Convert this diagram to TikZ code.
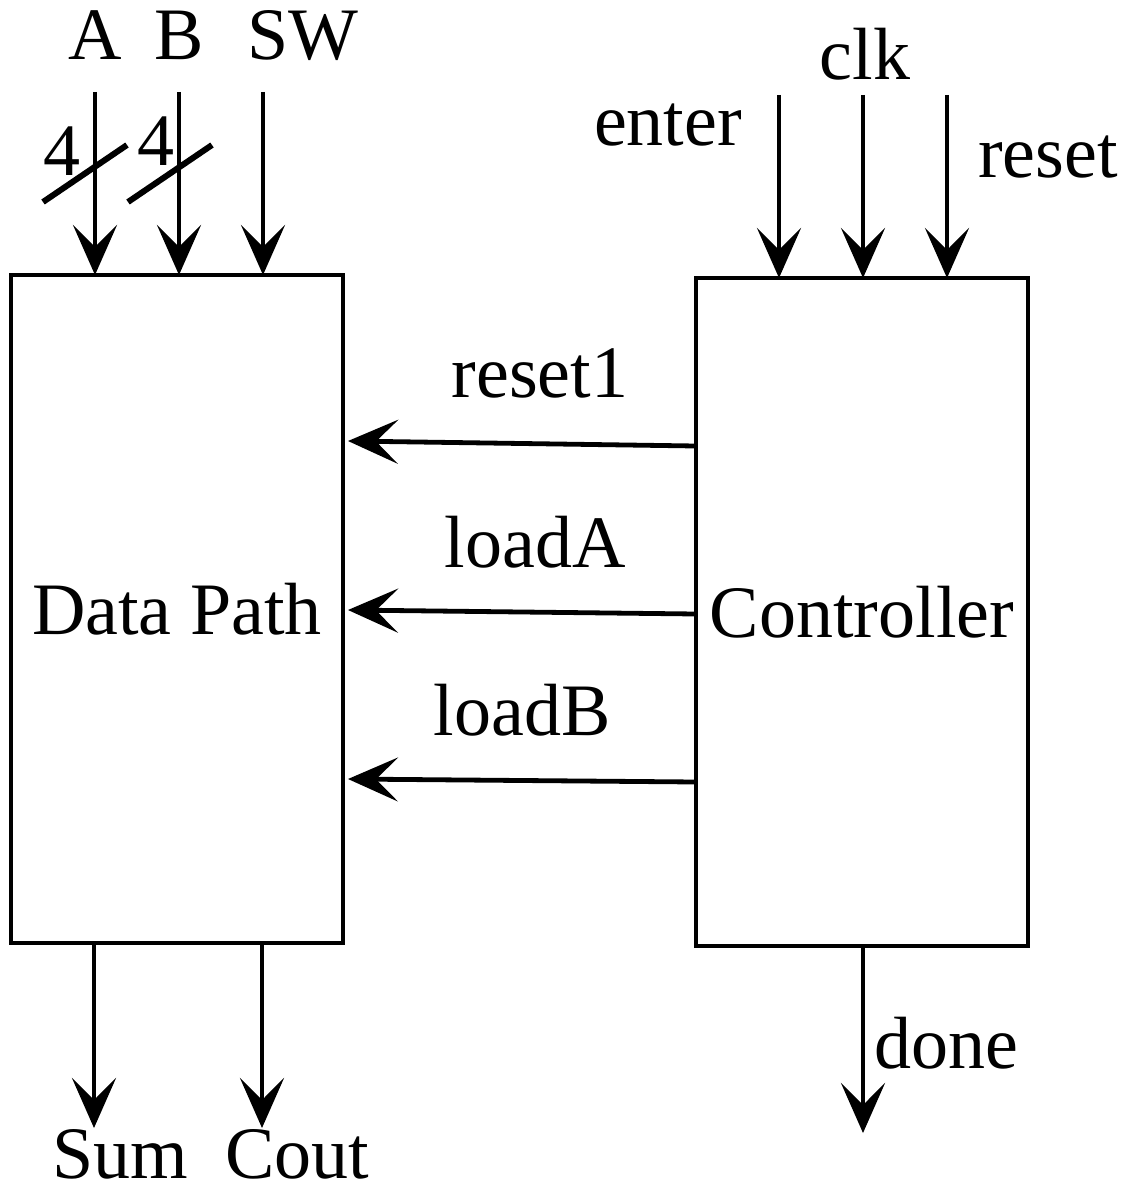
\documentclass[tikz,border=0pt]{standalone}
\usepackage{fontspec}
\setmainfont{Liberation Serif}
\usetikzlibrary{arrows.meta}
\begin{document}
\begin{tikzpicture}[x=0.5pt,y=-0.5pt,
  font=\fontsize{37}{44}\selectfont,
  blk/.style={draw,line width=2pt,minimum width=166pt,minimum height=334pt,inner sep=0pt,outer sep=0pt},
  sig/.style={line width=2.4pt,-{Stealth[length=25pt,width=22pt,inset=11pt]}},
  bus/.style={line width=3pt},
  lbl/.style={anchor=base,inner sep=0pt}]
\useasboundingbox (0,0) rectangle (1136,1193);

% blocks
\node[blk] (dp) at (177,609) {Data Path};
\node[blk] (ctl) at (862,612) {Controller};

% data path inputs
\coordinate (ina) at (95,92);
\coordinate (inb) at (179,92);
\coordinate (insw) at (263,92);
\draw[sig] (ina) -- (ina |- dp.north);
\draw[sig] (inb) -- (inb |- dp.north);
\draw[sig] (insw) -- (insw |- dp.north);
\node[lbl] (la) at (95,60) {A};
\node[lbl] (lb) at (179,60) {B};
\node[lbl] (lsw) at (303,60) {SW};

% bus width marks
\coordinate (sa1) at (43,202); \coordinate (sa2) at (127,145);
\coordinate (sb1) at (128,202); \coordinate (sb2) at (212,145);
\draw[bus] (sa1) -- (sa2);
\draw[bus] (sb1) -- (sb2);
\node[lbl] (wa) at (62,175) {4};
\node[lbl] (wb) at (156,165) {4};

% controller inputs
\coordinate (inen) at (779,95);
\coordinate (inclk) at (863,95);
\coordinate (inrst) at (947,95);
\draw[sig] (inen) -- (inen |- ctl.north);
\draw[sig] (inclk) -- (inclk |- ctl.north);
\draw[sig] (inrst) -- (inrst |- ctl.north);
\node[lbl] (len) at (668,145) {enter};
\node[lbl] (lclk) at (865,80) {clk};
\node[lbl] (lrst) at (1048,177) {reset};

% control signals
\coordinate (r1s) at (696,446); \coordinate (r1e) at (348,441);
\coordinate (las) at (696,614); \coordinate (lae) at (348,610);
\coordinate (lbs) at (696,782); \coordinate (lbe) at (348,779);
\draw[sig] (r1s) -- (r1e);
\draw[sig] (las) -- (lae);
\draw[sig] (lbs) -- (lbe);
\node[lbl] (lr1) at (540,397) {reset1};
\node[lbl] (lla) at (535,567) {loadA};
\node[lbl] (llb) at (522,735) {loadB};

% outputs
\coordinate (osum) at (94,1128);
\coordinate (ocout) at (262,1128);
\coordinate (odone) at (863,1133);
\draw[sig] (dp.south -| osum) -- (osum);
\draw[sig] (dp.south -| ocout) -- (ocout);
\draw[sig] (ctl.south -| odone) -- (odone);
\node[lbl] (lsum) at (120,1178) {Sum};
\node[lbl] (lcout) at (297,1178) {Cout};
\node[lbl] (ldone) at (946,1068) {done};
\end{tikzpicture}
\end{document}
